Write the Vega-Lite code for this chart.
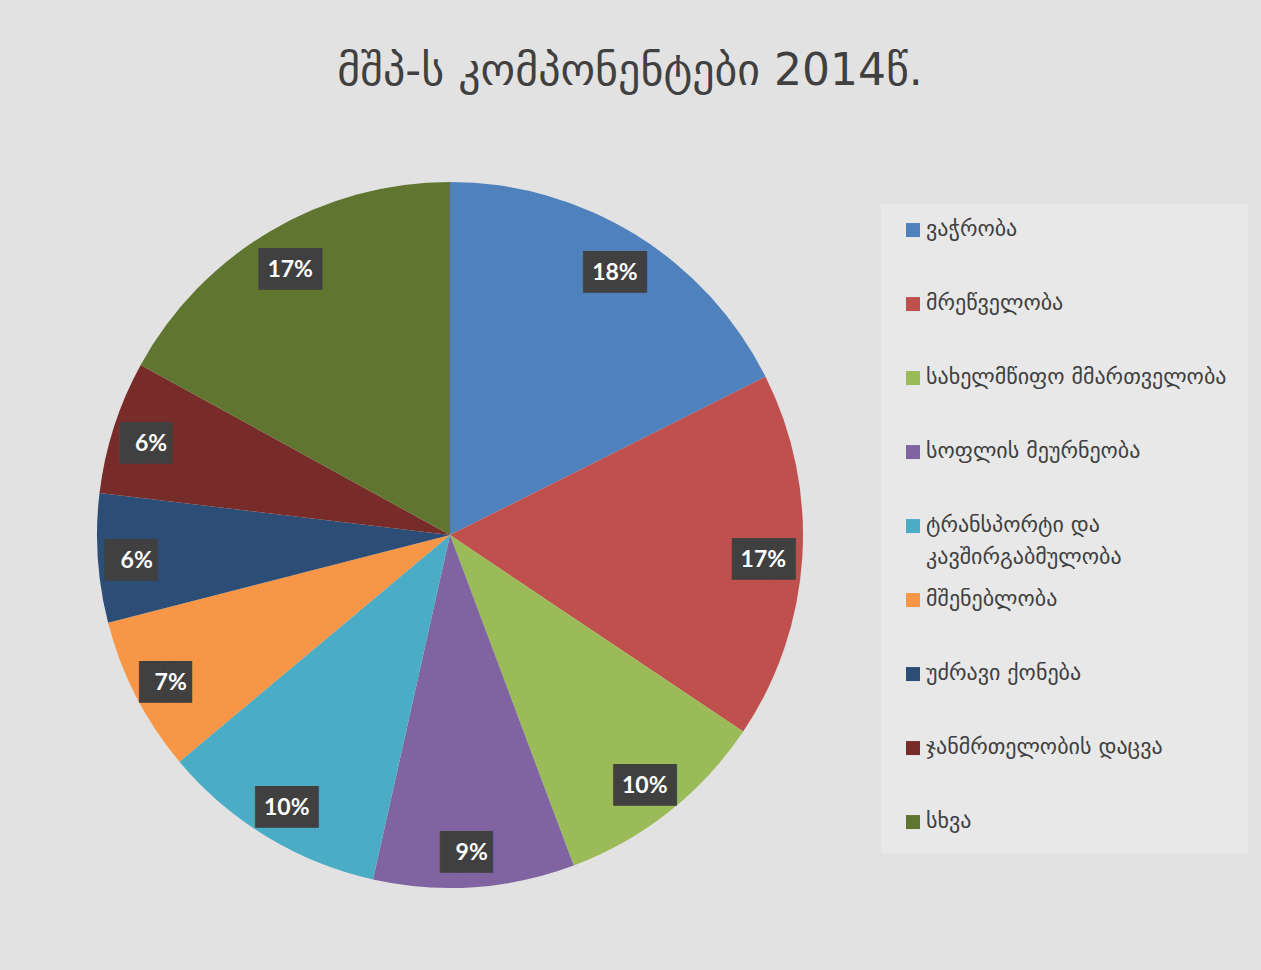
{
  "$schema": "https://vega.github.io/schema/vega-lite/v6.json",
  "width": 706,
  "height": 706,
  "autosize": {"type": "none"},
  "padding": {"left": 97, "top": 182, "right": 458, "bottom": 82},
  "background": "#e2e2e2",
  "title": {
    "text": "მშპ-ს კომპონენტები 2014წ.",
    "anchor": "middle",
    "frame": "group",
    "dx": 180,
    "offset": 88,
    "font": "DejaVu Sans",
    "fontSize": 44,
    "fontWeight": "normal",
    "color": "#404040"
  },
  "config": {"style": {"guide-label": {"lineHeight": 32}}, "view": {"stroke": null}},
  "data": {"values": [
    {"idx": 1, "sector": "ვაჭრობა", "value": 0.176},
    {"idx": 2, "sector": "მრეწველობა", "value": 0.168},
    {"idx": 3, "sector": "სახელმწიფო მმართველობა", "value": 0.099},
    {"idx": 4, "sector": "სოფლის მეურნეობა", "value": 0.092},
    {"idx": 5, "sector": "ტრანსპორტი და კავშირგაბმულობა", "value": 0.104},
    {"idx": 6, "sector": "მშენებლობა", "value": 0.071},
    {"idx": 7, "sector": "უძრავი ქონება", "value": 0.059},
    {"idx": 8, "sector": "ჯანმრთელობის დაცვა", "value": 0.061},
    {"idx": 9, "sector": "სხვა", "value": 0.170}
  ]},
  "encoding": {
    "theta": {"field": "value", "type": "quantitative", "stack": true},
    "order": {"field": "idx", "type": "quantitative"}
  },
  "layer": [
    {
      "mark": {"type": "arc", "outerRadius": 353},
      "encoding": {
        "color": {
          "field": "sector",
          "type": "nominal",
          "scale": {
            "domain": ["ვაჭრობა", "მრეწველობა", "სახელმწიფო მმართველობა", "სოფლის მეურნეობა", "ტრანსპორტი და კავშირგაბმულობა", "მშენებლობა", "უძრავი ქონება", "ჯანმრთელობის დაცვა", "სხვა"],
            "range": ["#4F81BD", "#C0504D", "#9BBB59", "#8064A2", "#4BACC6", "#F79646", "#2C4D75", "#772C2A", "#5F7530"]
          },
          "legend": {
            "title": null,
            "orient": "none",
            "legendX": 784,
            "legendY": 22,
            "direction": "vertical",
            "fillColor": "#e8e8e8",
            "padding": 21,
            "symbolType": "M-1,-1.85H1V0.15H-1Z",
            "symbolSize": 196,
            "symbolStrokeWidth": 0,
            "labelFont": "DejaVu Sans",
            "labelFontSize": 22,
            "labelColor": "#404040",
            "labelBaseline": "alphabetic",
            "labelOffset": 2,
            "labelLimit": 400,
            "rowPadding": 20,
            "gridAlign": "all",
            "labelExpr": "datum.label == 'ტრანსპორტი და კავშირგაბმულობა' ? ['ტრანსპორტი და', 'კავშირგაბმულობა'] : datum.label"
          }
        }
      }
    },
    {
      "mark": {"type": "text", "radius": 314, "dy": 5, "font": "DejaVu Sans Mono", "fontSize": 35, "color": "#404040"},
      "encoding": {"text": {"condition": {"test": "datum.value >= 0.095", "value": "███"}, "value": "██▌"}}
    },
    {
      "mark": {"type": "text", "radius": 314, "dy": 5, "font": "Lato", "fontSize": 23, "fontWeight": "bold", "color": "#ffffff"},
      "encoding": {"text": {"field": "value", "type": "quantitative", "format": ".0%"}}
    }
  ]
}
